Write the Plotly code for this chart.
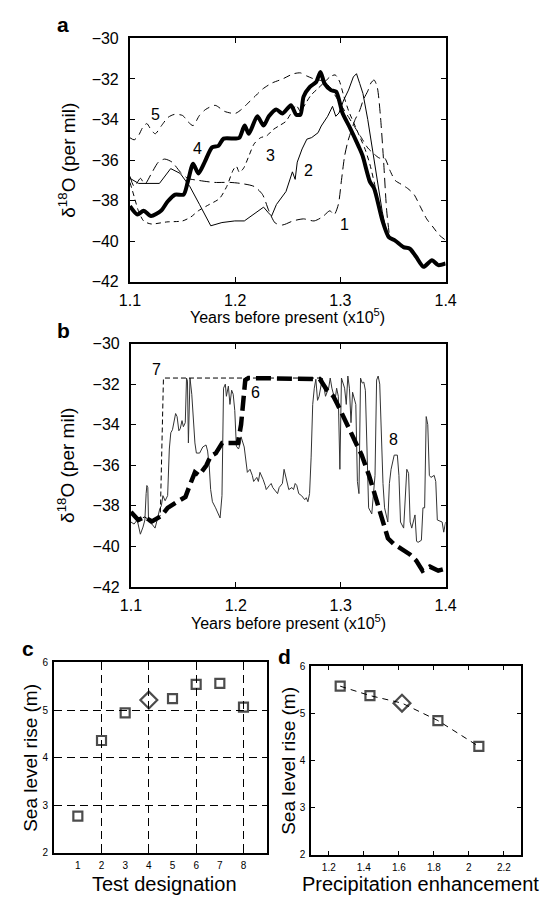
import plotly.graph_objects as go

W, H = 542, 905

# ---------------- Panel a data (x in 10^5 years BP, y in per mil) -------------
x1 = [1.100,1.104,1.110,1.114,1.120,1.127,1.133,1.140,1.148,1.155,1.165,1.180,1.195,1.205,1.218,1.226,1.232,1.238,1.245,1.255,1.265,1.275,1.283,1.290,1.294,1.298,1.301,1.304,1.307,1.310,1.314,1.318,1.322,1.326,1.329,1.332,1.335,1.338,1.341,1.344,1.347]
y1 = [-36.8,-37.3,-36.9,-37.2,-36.7,-36.1,-35.95,-36.1,-36.6,-36.9,-37.0,-37.1,-37.1,-37.15,-37.3,-37.7,-38.5,-39.1,-39.2,-39.0,-38.9,-39.0,-38.8,-38.5,-38.7,-38.2,-37.0,-35.8,-35.1,-34.6,-34.0,-33.6,-33.0,-32.6,-32.2,-32.05,-32.4,-33.8,-36.0,-38.5,-39.9]

x2 = [1.100,1.1082,1.128,1.1387,1.1478,1.157,1.1661,1.1768,1.1874,1.1996,1.2087,1.2179,1.227,1.2316,1.2346,1.2392,1.2483,1.2544,1.257,1.259,1.2636,1.2681,1.2727,1.2788,1.2818,1.2879,1.2925,1.2956,1.2986,1.3032,1.3077,1.3123,1.3153,1.3184,1.3214,1.326,1.3306,1.3351,1.3397,1.3443,1.3458]
y2 = [-36.90,-37.15,-37.15,-36.42,-36.66,-37.31,-38.19,-39.24,-39.08,-39.0,-39.0,-38.68,-38.32,-38.6,-38.76,-38.19,-37.55,-36.58,-36.95,-36.1,-35.45,-34.97,-34.89,-34.65,-34.32,-33.84,-33.35,-33.84,-33.68,-33.03,-32.55,-31.9,-31.74,-32.23,-32.71,-34.0,-35.45,-37.06,-38.52,-39.65,-39.8]

x3 = [1.100,1.104,1.108,1.113,1.120,1.135,1.150,1.158,1.165,1.175,1.185,1.192,1.198,1.201,1.204,1.208,1.213,1.218,1.224,1.230,1.236,1.242,1.248,1.253,1.258,1.262,1.267,1.272,1.278,1.284,1.290,1.295,1.299,1.303,1.308,1.313,1.318,1.323,1.328,1.333,1.338,1.343,1.347]
y3 = [-37.1,-37.8,-38.5,-39.0,-39.15,-39.05,-39.0,-38.8,-38.5,-38.2,-37.9,-37.3,-36.5,-36.3,-36.6,-36.4,-35.8,-35.2,-34.9,-34.8,-34.5,-34.3,-34.1,-33.7,-33.3,-33.6,-33.2,-32.8,-32.5,-32.2,-31.9,-31.8,-32.1,-32.8,-33.6,-34.2,-34.8,-35.4,-36.2,-37.3,-38.5,-39.5,-39.9]

x4 = [1.100,1.107,1.113,1.120,1.1295,1.136,1.143,1.151,1.155,1.160,1.165,1.171,1.178,1.184,1.189,1.200,1.204,1.209,1.213,1.221,1.227,1.232,1.239,1.245,1.253,1.258,1.262,1.265,1.271,1.277,1.281,1.285,1.291,1.296,1.302,1.309,1.317,1.321,1.328,1.332,1.340,1.346,1.352,1.360,1.366,1.372,1.379,1.387,1.393,1.400]
y4 = [-38.27,-38.68,-38.5,-38.76,-38.5,-38.03,-37.7,-37.7,-37.06,-36.18,-36.66,-36.1,-35.37,-35.3,-34.94,-34.94,-34.9,-34.3,-34.7,-33.84,-34.3,-33.84,-33.5,-33.7,-33.3,-33.76,-33.76,-32.87,-32.39,-32.15,-31.66,-32.23,-32.55,-32.63,-33.68,-34.4,-35.29,-35.77,-37.06,-37.39,-39.0,-39.8,-39.97,-40.29,-40.37,-40.77,-41.26,-40.94,-41.18,-41.1]

x5 = [1.100,1.104,1.108,1.112,1.116,1.120,1.124,1.130,1.136,1.142,1.150,1.155,1.160,1.166,1.172,1.181,1.190,1.200,1.206,1.212,1.218,1.226,1.235,1.245,1.255,1.262,1.268,1.275,1.283,1.290,1.296,1.302,1.308,1.314,1.320,1.326,1.332,1.337,1.342,1.347,1.352,1.358,1.364,1.370,1.376,1.382,1.388,1.394,1.400]
y5 = [-34.9,-35.0,-34.8,-34.4,-34.2,-34.5,-34.7,-34.3,-33.9,-33.75,-33.8,-34.1,-34.3,-33.8,-33.5,-33.3,-33.6,-33.7,-33.5,-33.2,-32.9,-32.5,-32.2,-32.0,-31.75,-31.7,-31.85,-32.0,-32.1,-32.4,-32.9,-33.4,-33.9,-34.4,-34.9,-35.4,-35.7,-35.9,-35.9,-36.5,-37.0,-37.2,-37.4,-37.7,-38.3,-38.9,-39.3,-39.7,-39.95]

# ---------------- Panel b data ----------------
x6 = [1.100,1.107,1.113,1.120,1.129,1.135,1.144,1.152,1.156,1.161,1.165,1.172,1.176,1.181,1.187,1.195,1.202,1.205,1.207,1.209,1.212,1.230,1.250,1.274,1.280,1.287,1.293,1.297,1.3025,1.3086,1.3147,1.320,1.327,1.333,1.339,1.345,1.351,1.360,1.366,1.372,1.378,1.385,1.393,1.400]
y6 = [-38.3,-38.7,-38.55,-38.77,-38.5,-38.1,-37.8,-37.56,-37.0,-36.35,-36.5,-36.0,-35.55,-35.4,-34.9,-34.9,-34.9,-34.0,-32.5,-31.8,-31.7,-31.7,-31.7,-31.7,-31.75,-32.3,-32.6,-33.0,-33.6,-34.26,-34.9,-35.5,-36.5,-37.5,-38.6,-39.6,-39.9,-40.2,-40.4,-40.7,-41.2,-41.0,-41.2,-41.1]

x7 = [1.100,1.107,1.113,1.120,1.128,1.131,1.200,1.280]
y7 = [-38.3,-38.7,-38.55,-38.77,-38.5,-31.7,-31.7,-31.7]

x8 = [1.100,1.103,1.106,1.109,1.1115,1.1133,1.1145,1.1152,1.1161,1.1168,1.120,1.123,1.1245,1.1275,1.129,1.1305,1.1326,1.135,1.1366,1.138,1.1396,1.141,1.1426,1.144,1.1457,1.147,1.1487,1.150,1.1518,1.153,1.1539,1.1548,1.1563,1.158,1.1594,1.161,1.1624,1.1655,1.1685,1.1716,1.1731,1.1746,1.176,1.1777,1.1807,1.1838,1.185,1.1868,1.1877,1.1883,1.190,1.191,1.1929,1.1944,1.196,1.1975,1.199,1.2005,1.2026,1.2044,1.205,1.208,1.211,1.2135,1.2157,1.217,1.220,1.2215,1.223,1.2245,1.226,1.228,1.229,1.232,1.2337,1.2352,1.2368,1.2398,1.2413,1.2444,1.246,1.2475,1.2505,1.2535,1.255,1.2566,1.2581,1.260,1.2627,1.2657,1.2672,1.2687,1.2703,1.2718,1.2733,1.2748,1.2763,1.2779,1.2794,1.2825,1.2855,1.2885,1.290,1.2916,1.2946,1.2961,1.2977,1.2992,1.3007,1.3037,1.3053,1.3068,1.3083,1.3098,1.3113,1.3144,1.3159,1.3174,1.3189,1.3205,1.322,1.3235,1.325,1.3266,1.3296,1.3327,1.3342,1.3357,1.3372,1.3388,1.3403,1.3418,1.3449,1.3464,1.348,1.351,1.354,1.3555,1.357,1.360,1.363,1.3647,1.3662,1.3677,1.3708,1.3723,1.3738,1.3769,1.3784,1.380,1.3815,1.383,1.3845,1.386,1.3891,1.3906,1.3921,1.3967,1.3982,1.400]
y8 = [-38.8,-38.9,-38.7,-39.4,-39.05,-38.7,-37.4,-37.0,-37.1,-38.8,-38.9,-39.1,-38.8,-38.15,-38.0,-37.5,-37.75,-37.5,-35.2,-34.4,-34.25,-33.8,-33.45,-33.6,-34.3,-34.2,-33.8,-34.1,-33.9,-31.7,-31.85,-34.9,-31.7,-32.5,-33.6,-34.9,-35.4,-35.4,-35.1,-35.0,-35.3,-36.0,-37.2,-37.8,-38.1,-38.45,-38.6,-37.5,-35.3,-32.2,-32.0,-32.6,-32.1,-33.0,-32.3,-32.5,-33.3,-35.06,-35.2,-34.9,-34.6,-35.1,-36.35,-36.2,-36.5,-36.8,-36.6,-36.8,-36.35,-36.5,-36.7,-37.0,-37.2,-37.0,-36.9,-37.1,-37.2,-37.4,-37.1,-36.9,-36.2,-36.5,-37.2,-37.1,-37.2,-36.9,-37.0,-37.4,-37.5,-37.7,-37.6,-37.8,-37.4,-35.6,-33.0,-32.2,-31.76,-32.8,-32.6,-31.7,-32.6,-32.2,-31.7,-32.2,-32.8,-32.2,-32.6,-36.2,-31.7,-32.2,-33.0,-31.6,-32.2,-33.9,-32.4,-33.0,-36.8,-37.4,-31.7,-31.95,-31.9,-32.3,-35.2,-38.1,-38.4,-36.5,-31.8,-31.6,-32.0,-35.2,-36.9,-38.1,-38.8,-36.9,-36.2,-35.5,-35.5,-36.5,-38.8,-39.1,-36.2,-36.4,-38.8,-39.1,-38.45,-39.75,-39.8,-39.7,-38.1,-38.1,-33.6,-34.0,-36.5,-36.6,-36.5,-36.8,-38.7,-38.8,-39.3,-38.8]

# ---------------- Panel c / d data ----------------
test_ids = [1, 2, 3, 4, 5, 6, 7, 8]
sea_rise_c = [2.77, 4.36, 4.94, 5.21, 5.24, 5.54, 5.56, 5.06]
symbols_c = ["square-open", "square-open", "square-open", "diamond-open",
             "square-open", "square-open", "square-open", "square-open"]

precip = [1.265, 1.435, 1.618, 1.823, 2.057]
sea_rise_d = [5.58, 5.38, 5.22, 4.85, 4.30]
symbols_d = ["square-open", "square-open", "diamond-open", "square-open", "square-open"]

# Curve label positions (text annotations)
labels_a = ["1", "2", "3", "4", "5"]
lab_a_x = [1.3037, 1.2696, 1.2337, 1.1646, 1.1244]
lab_a_y = [-39.16, -36.5, -35.77, -35.45, -33.76]
labels_b = ["6", "7", "8"]
lab_b_x = [1.2188, 1.1244, 1.350]
lab_b_y = [-32.4, -31.27, -34.74]

x_ticks_ab = [1.1, 1.2, 1.3, 1.4]
y_ticks_ab = [-30, -32, -34, -36, -38, -40, -42]

FONT = "Liberation Sans, Arial, Helvetica, sans-serif"

fig = go.Figure()

def line(x, y, xa, ya, width=1, dash="solid", color="black", shape="linear"):
    fig.add_trace(go.Scatter(x=x, y=y, xaxis=xa, yaxis=ya, mode="lines",
                             line=dict(color=color, width=width, dash=dash, shape=shape,
                                       smoothing=0.7 if shape == "spline" else None),
                             hoverinfo="skip"))

# panel a
line(x5, y5, "x", "y", 1, "7px,5px", shape="spline")
line(x3, y3, "x", "y", 1, "5px,4px", shape="spline")
line(x1, y1, "x", "y", 1, "10px,5px", shape="spline")
line(x2, y2, "x", "y", 1, "solid")
line(x4, y4, "x", "y", 4, "solid", shape="spline")
# panel b
line(x8, y8, "x2", "y2", 1, "solid", color="#333333")
line(x7, y7, "x2", "y2", 1, "5px,3px")
line(x6, y6, "x2", "y2", 4.5, "15px,6px")

# panel c
fig.add_trace(go.Scatter(x=test_ids, y=sea_rise_c, xaxis="x3", yaxis="y3", mode="markers",
                         marker=dict(symbol=symbols_c, size=[9, 9, 9, 13, 9, 9, 9, 9],
                                     color="black", line=dict(color="black", width=2.2)),
                         hoverinfo="skip"))
# label axis for panel c (ticks 1..8 without grid)
fig.add_trace(go.Scatter(x=[None], y=[None], xaxis="x5", yaxis="y3", mode="markers",
                         hoverinfo="skip"))

# panel d
fig.add_trace(go.Scatter(x=precip, y=sea_rise_d, xaxis="x4", yaxis="y4", mode="lines+markers",
                         line=dict(color="black", width=1, dash="6px,5px"),
                         marker=dict(symbol=symbols_d, size=[9, 9, 13, 9, 9],
                                     color="black", line=dict(color="black", width=2.2)),
                         hoverinfo="skip"))

def dx(a, b):
    return [a / W, b / W]

def dy(top, bottom):
    return [1 - bottom / H, 1 - top / H]

common = dict(showline=True, linecolor="black", linewidth=2, mirror="ticks",
              ticks="inside", ticklen=5, tickwidth=1, tickcolor="black",
              zeroline=False, showgrid=False,
              tickfont=dict(family=FONT, size=16, color="black"))

fig.update_layout(
    width=W, height=H, margin=dict(l=0, r=0, t=0, b=0),
    paper_bgcolor="white", plot_bgcolor="white", showlegend=False,
    font=dict(family=FONT, color="black"),
    xaxis=dict(domain=dx(124, 453), range=[1.1, 1.4], tickvals=x_ticks_ab, anchor="y",
               ticklabelstandoff=3, **common),
    yaxis=dict(domain=dy(31, 279), range=[-42, -30], tickvals=y_ticks_ab, anchor="x",
               ticklabelstandoff=6, **common),
    xaxis2=dict(domain=dx(125, 453), range=[1.1, 1.4], tickvals=x_ticks_ab, anchor="y2",
                ticklabelstandoff=3, **common),
    yaxis2=dict(domain=dy(342, 590), range=[-42, -30], tickvals=y_ticks_ab, anchor="x2",
                ticklabelstandoff=6, **common),
)

small = dict(common)
small["tickfont"] = dict(family=FONT, size=10, color="black")
small["ticklen"] = 4

c_x = dict(small)
c_x.update(showgrid=True, gridcolor="black", gridwidth=1, griddash="8px,5px",
           showticklabels=False)
c_y = dict(small)
c_y.update(showgrid=True, gridcolor="black", gridwidth=1, griddash="8px,5px")

fig.update_layout(
    xaxis3=dict(domain=dx(45, 267), range=[0, 9], tickvals=[2, 4, 6, 8], anchor="y3", **c_x),
    yaxis3=dict(domain=dy(667, 861), range=[2, 6], tickvals=[2, 3, 4, 5, 6], anchor="x3",
                ticklabelstandoff=2, **c_y),
    xaxis5=dict(overlaying="x3", anchor="y3", range=[0, 9], tickvals=test_ids,
                showline=False, ticks="", showgrid=False, zeroline=False,
                ticklabelstandoff=5,
                tickfont=dict(family=FONT, size=10, color="black")),
    xaxis4=dict(domain=dx(313, 532), range=[1.1, 2.3], tickvals=[1.2, 1.4, 1.6, 1.8, 2.0, 2.2],
                ticktext=["1.2", "1.4", "1.6", "1.8", "2", "2.2"], anchor="y4",
                ticklabelstandoff=2, **small),
    yaxis4=dict(domain=dy(671, 863), range=[2, 6], tickvals=[2, 3, 4, 5, 6], anchor="x4",
                ticklabelstandoff=2, **small),
)

ann = []
def text(t, x, y, size, xref="paper", yref="paper", angle=0, bold=False):
    if xref == "paper":
        x = x / W
    if yref == "paper":
        y = 1 - y / H
    ann.append(dict(text=f"<b>{t}</b>" if bold else t, x=x, y=y, xref=xref, yref=yref,
                    showarrow=False, textangle=angle, xanchor="center", yanchor="middle",
                    font=dict(family=FONT, size=size, color="black")))

# panel letters
text("a", 54, 17, 21, bold=True)
text("b", 55, 329, 21, bold=True)
text("c", 18, 653, 21, bold=True)
text("d", 285, 661, 21, bold=True)

# axis titles
text("δ<sup>18</sup>O (per mil)", 58, 155, 19, angle=-90)
text("Years before present (x10<sup>5</sup>)", 288, 314, 16)
text("δ<sup>18</sup>O (per mil)", 58, 466, 19, angle=-90)
text("Years before present (x10<sup>5</sup>)", 289, 626, 16)
text("Sea level rise (m)", 20, 764, 19, angle=-90)
text("Test designation", 160, 893, 20)
text("Sea level rise (m)", 289, 767, 19, angle=-90)
text("Precipitation enhancement", 427, 893, 20)

for t, x, y in zip(labels_a, lab_a_x, lab_a_y):
    text(t, x, y, 16, xref="x", yref="y")
for t, x, y in zip(labels_b, lab_b_x, lab_b_y):
    text(t, x, y, 16, xref="x2", yref="y2")

fig.update_layout(annotations=ann)
fig.write_html("out.html",
               config={"displayModeBar": False, "staticPlot": True},
               post_script="document.body.style.margin='0';"
                           "document.body.style.padding='0';"
                           "document.body.style.overflow='hidden';"
                           "document.documentElement.style.overflow='hidden';")
